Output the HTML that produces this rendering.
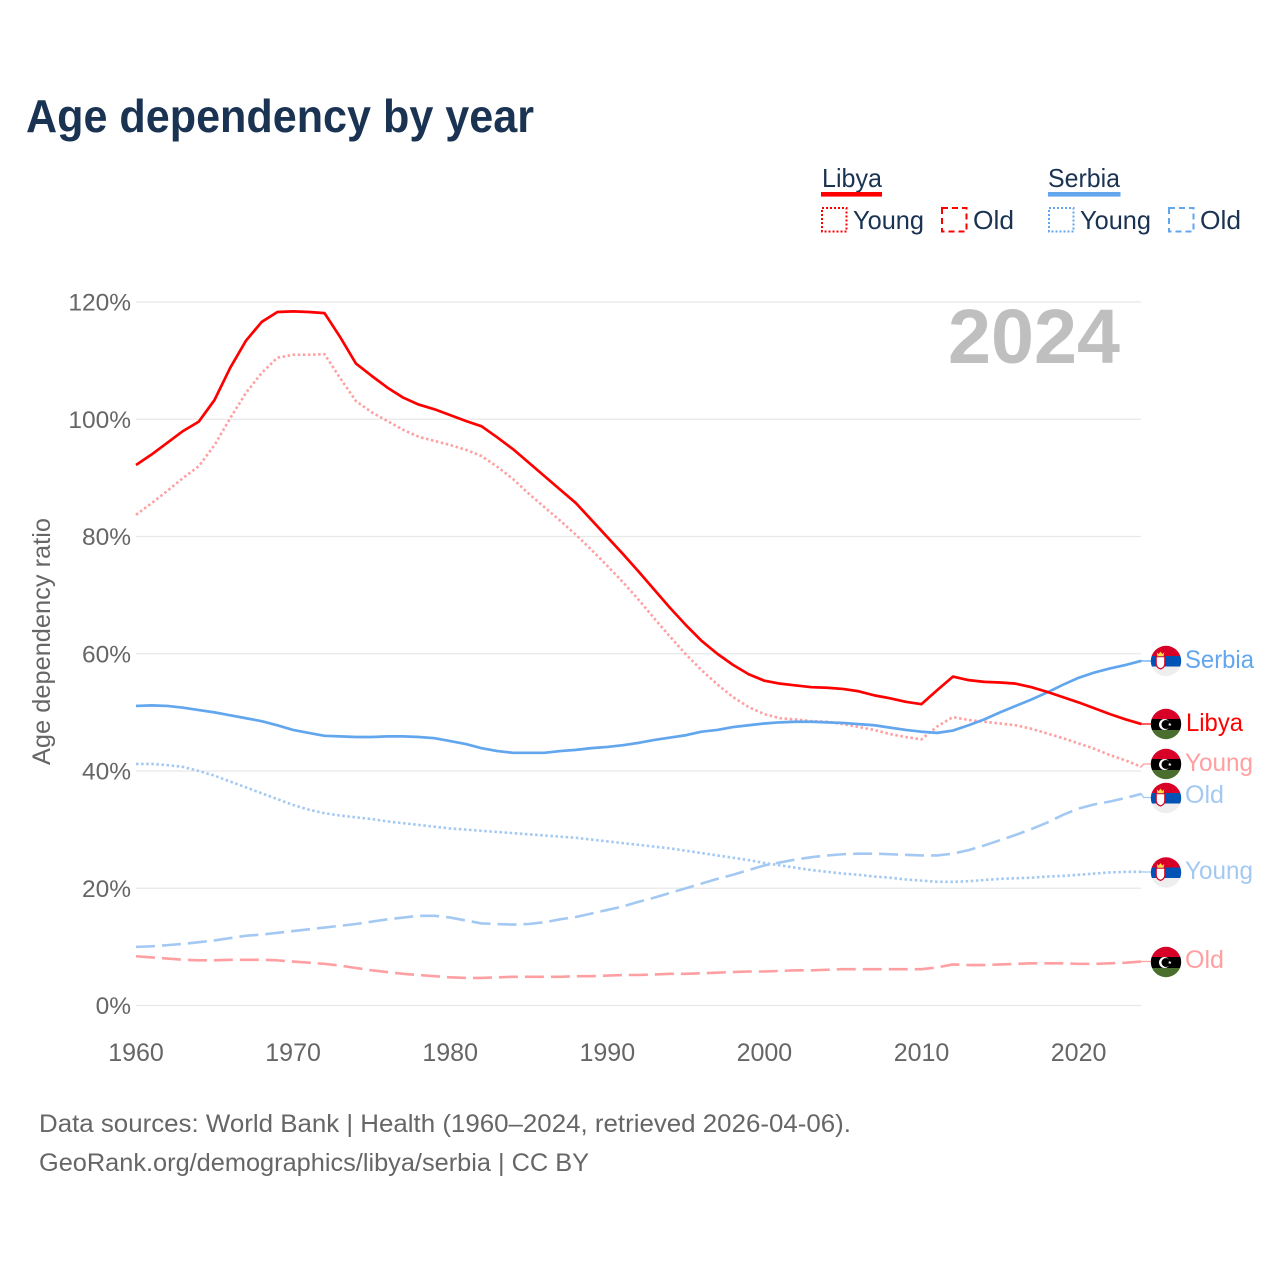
<!DOCTYPE html>
<html lang="en">
<head>
<meta charset="utf-8">
<title>Age dependency by year</title>
<style>
html,body{margin:0;padding:0;background:#fff;width:1280px;height:1280px;overflow:hidden}
svg{display:block}
text{font-family:"Liberation Sans",sans-serif}
</style>
</head>
<body>
<svg id="chart" xmlns="http://www.w3.org/2000/svg" width="1280" height="1280" viewBox="0 0 1280 1280">
  <defs>
    <clipPath id="flag-clip"><circle cx="0" cy="0" r="15.2"/></clipPath>
    <g id="flag-libya" clip-path="url(#flag-clip)">
      <rect x="-16" y="-16" width="32" height="11" fill="#d80027"/>
      <rect x="-16" y="-5" width="32" height="11" fill="#000"/>
      <rect x="-16" y="6" width="32" height="10" fill="#496e2d"/>
      <circle cx="-1.5" cy="0.5" r="5.5" fill="#fff"/>
      <circle cx="0" cy="0.5" r="4.5" fill="#000"/>
      <polygon points="3.8,-1.3 4.3,-0.1 5.6,-0.1 4.6,0.7 5,2 3.8,1.2 2.6,2 3,0.7 2,-0.1 3.3,-0.1" fill="#fff"/>
    </g>
    <g id="flag-serbia" clip-path="url(#flag-clip)">
      <rect x="-16" y="-16" width="32" height="11" fill="#d80027"/>
      <rect x="-16" y="-5" width="32" height="10.5" fill="#0052b4"/>
      <rect x="-16" y="5.5" width="32" height="10.5" fill="#eeeeee"/>
      <path d="M-10.2 -4.8 H-0.8 V3 Q-0.8 7.2 -5.5 8.6 Q-10.2 7.2 -10.2 3 Z" fill="#d80027"/>
      <path d="M-9.2 -3.8 H-1.8 V2.6 Q-1.8 6 -5.5 7.2 Q-9.2 6 -9.2 2.6 Z" fill="#fff"/>
      <path d="M-9.2 -8.6 L-7.4 -7 L-5.5 -9.4 L-3.6 -7 L-1.8 -8.6 L-2.4 -4.8 H-8.6 Z" fill="#ffda44"/>
    </g>
  </defs>

  <text x="26" y="132" font-size="46" font-weight="700" fill="#1a3353" textLength="508" lengthAdjust="spacingAndGlyphs">Age dependency by year</text>

  <g fill="#1a3353" font-size="26">
    <text x="822" y="187" textLength="60" lengthAdjust="spacingAndGlyphs">Libya</text>
    <rect x="821" y="192" width="61" height="4.6" fill="#ff0000"/>
    <rect x="822" y="208" width="24.5" height="23.5" fill="none" stroke="#ff0000" stroke-width="2" stroke-dasharray="2 2"/>
    <text x="853" y="229" textLength="71" lengthAdjust="spacingAndGlyphs">Young</text>
    <rect x="942" y="208" width="24.5" height="23.5" fill="none" stroke="#ff0000" stroke-width="2" stroke-dasharray="6 4"/>
    <text x="973" y="229" textLength="41" lengthAdjust="spacingAndGlyphs">Old</text>
    <text x="1048" y="187" textLength="72" lengthAdjust="spacingAndGlyphs">Serbia</text>
    <rect x="1048" y="192" width="72.5" height="4.6" fill="#62a6ee"/>
    <rect x="1049" y="208" width="24.5" height="23.5" fill="none" stroke="#62a6ee" stroke-width="2" stroke-dasharray="2 2"/>
    <text x="1080" y="229" textLength="71" lengthAdjust="spacingAndGlyphs">Young</text>
    <rect x="1169" y="208" width="24.5" height="23.5" fill="none" stroke="#62a6ee" stroke-width="2" stroke-dasharray="6 4"/>
    <text x="1200" y="229" textLength="41" lengthAdjust="spacingAndGlyphs">Old</text>
  </g>

  <g id="grid"></g>
  <g id="y-ticks"></g>
  <g id="x-ticks"></g>

  <text transform="translate(50,765) rotate(-90)" font-size="25" fill="#666666" textLength="247" lengthAdjust="spacingAndGlyphs">Age dependency ratio</text>

  <text x="948" y="363" font-size="77" font-weight="700" fill="#bfbfbf" textLength="172" lengthAdjust="spacingAndGlyphs">2024</text>

  <g id="series"></g>

  <g font-size="25">
    <use href="#flag-serbia" x="1166" y="661"/>
    <text x="1185" y="668" fill="#62a6ee" textLength="69" lengthAdjust="spacingAndGlyphs">Serbia</text>
    <use href="#flag-libya" x="1166" y="724"/>
    <text x="1186" y="731" fill="#ff0000" textLength="57" lengthAdjust="spacingAndGlyphs">Libya</text>
    <use href="#flag-libya" x="1166" y="764"/>
    <text x="1185" y="771" fill="#ff9fa1" textLength="68" lengthAdjust="spacingAndGlyphs">Young</text>
    <use href="#flag-serbia" x="1166" y="798"/>
    <text x="1185" y="803" fill="#a3c9f3" textLength="39" lengthAdjust="spacingAndGlyphs">Old</text>
    <use href="#flag-serbia" x="1166" y="872.5"/>
    <text x="1185" y="879" fill="#a3c9f3" textLength="68" lengthAdjust="spacingAndGlyphs">Young</text>
    <use href="#flag-libya" x="1166" y="962"/>
    <text x="1185" y="968" fill="#ff9fa1" textLength="39" lengthAdjust="spacingAndGlyphs">Old</text>
  </g>

  <g font-size="25" fill="#666666">
    <text x="39" y="1132" textLength="812" lengthAdjust="spacingAndGlyphs">Data sources: World Bank | Health (1960–2024, retrieved 2026-04-06).</text>
    <text x="39" y="1171" textLength="550" lengthAdjust="spacingAndGlyphs">GeoRank.org/demographics/libya/serbia | CC BY</text>
  </g>
</svg>
<script>
const startYear = 1960;
const yTickValues = [0, 20, 40, 60, 80, 100, 120];
const xTickYears = [1960, 1970, 1980, 1990, 2000, 2010, 2020];

const libyaTotal = [
  92.2, 94, 96, 98, 99.6, 103.3, 108.8, 113.4, 116.6, 118.3,
  118.4, 118.3, 118.1, 114, 109.5, 107.4, 105.4, 103.7, 102.5, 101.7,
  100.7, 99.7, 98.8, 96.9, 94.9, 92.6, 90.3, 88, 85.7, 82.8,
  79.9, 77, 74, 70.9, 67.8, 64.9, 62.2, 60, 58.1, 56.5,
  55.4, 54.9, 54.6, 54.3, 54.2, 54, 53.6, 52.9, 52.4, 51.8,
  51.4, 53.8, 56.1, 55.5, 55.2, 55.1, 54.9, 54.3, 53.5, 52.6,
  51.7, 50.7, 49.7, 48.8, 48
];
const libyaYoung = [
  83.7, 85.7, 87.8, 90, 92, 95.6, 100.2, 104.5, 107.9, 110.5,
  111, 111, 111.1, 107, 103.1, 101.2, 99.7, 98.2, 97, 96.3,
  95.6, 94.8, 93.7, 91.9, 89.8, 87.3, 85, 82.7, 80.3, 77.7,
  75, 72.2, 69.2, 66, 62.9, 59.9, 57.2, 54.8, 52.6, 50.9,
  49.7, 49, 48.8, 48.5, 48.4, 48, 47.5, 47, 46.3, 45.8,
  45.4, 47.6, 49.2, 48.7, 48.4, 48.1, 47.8, 47.2, 46.4, 45.6,
  44.7, 43.8, 42.7, 41.8, 40.7
];
const libyaOld = [
  8.4, 8.2, 8, 7.8, 7.7, 7.7, 7.8, 7.8, 7.8, 7.7,
  7.5, 7.3, 7.1, 6.8, 6.4, 6, 5.7, 5.4, 5.2, 5,
  4.8, 4.7, 4.7, 4.8, 4.9, 4.9, 4.9, 4.9, 5, 5,
  5.1, 5.2, 5.2, 5.3, 5.4, 5.4, 5.5, 5.6, 5.7, 5.8,
  5.8, 5.9, 6, 6, 6.1, 6.2, 6.2, 6.2, 6.2, 6.2,
  6.2, 6.5, 7, 6.9, 6.9, 7, 7.1, 7.2, 7.2, 7.2,
  7.1, 7.1, 7.2, 7.3, 7.5
];
const serbiaTotal = [
  51.1, 51.2, 51.1, 50.8, 50.4, 50, 49.5, 49, 48.5, 47.8,
  47, 46.5, 46, 45.9, 45.8, 45.8, 45.9, 45.9, 45.8, 45.6,
  45.1, 44.6, 43.9, 43.4, 43.1, 43.1, 43.1, 43.4, 43.6, 43.9,
  44.1, 44.4, 44.8, 45.3, 45.7, 46.1, 46.7, 47, 47.5, 47.8,
  48.1, 48.3, 48.4, 48.4, 48.3, 48.2, 48, 47.8, 47.4, 47,
  46.7, 46.5, 46.9, 47.8, 48.8, 50, 51.1, 52.2, 53.4, 54.7,
  55.9, 56.8, 57.5, 58.1, 58.8
];
const serbiaYoung = [
  41.2, 41.2, 41, 40.7, 40, 39.2, 38.2, 37.2, 36.2, 35.2,
  34.2, 33.4, 32.8, 32.4, 32.1, 31.8, 31.4, 31.1, 30.8, 30.5,
  30.2, 30, 29.8, 29.6, 29.4, 29.2, 29, 28.8, 28.6, 28.3,
  28, 27.7, 27.4, 27.1, 26.8, 26.4, 26, 25.6, 25.2, 24.8,
  24.3, 23.9, 23.5, 23.1, 22.8, 22.5, 22.3, 22, 21.8, 21.5,
  21.3, 21.1, 21.1, 21.2, 21.4, 21.6, 21.7, 21.8, 22, 22.1,
  22.3, 22.5, 22.7, 22.8, 22.8
];
const serbiaOld = [
  10, 10.1, 10.3, 10.5, 10.8, 11.1, 11.5, 11.9, 12.1, 12.4,
  12.7, 13, 13.3, 13.6, 13.9, 14.3, 14.7, 15, 15.3, 15.3,
  15, 14.5, 14, 13.9, 13.8, 13.9, 14.2, 14.7, 15.1, 15.7,
  16.3, 16.9, 17.7, 18.4, 19.2, 20, 20.8, 21.6, 22.3, 23.1,
  23.9, 24.4, 24.9, 25.3, 25.6, 25.8, 25.9, 25.9, 25.8, 25.7,
  25.6, 25.6, 25.9, 26.5, 27.3, 28.2, 29.1, 30.1, 31.2, 32.5,
  33.6, 34.3, 34.8, 35.4, 36.1
];

const NS = 'http://www.w3.org/2000/svg';
function xScale(year) { return 136 + (year - 1960) * 15.71; }
function yScale(v) { return 1005.5 - v * 5.8625; }

const gridGroup = document.getElementById('grid');
const yTickGroup = document.getElementById('y-ticks');
const xTickGroup = document.getElementById('x-ticks');
const seriesGroup = document.getElementById('series');

yTickValues.forEach(function (v) {
  const line = document.createElementNS(NS, 'line');
  
  
  line.setAttribute('x1', 136);
  line.setAttribute('x2', 1141);
  line.setAttribute('y1', yScale(v));
  line.setAttribute('y2', yScale(v));
  line.setAttribute('stroke', '#e8e8e8');
  line.setAttribute('stroke-width', 1.3);
  gridGroup.appendChild(line);

  const label = document.createElementNS(NS, 'text');
  
  
  label.setAttribute('x', 131);
  label.setAttribute('y', yScale(v) + 8.5);
  label.setAttribute('text-anchor', 'end');
  label.setAttribute('font-size', 24.5);
  label.setAttribute('fill', '#666666');
  label.textContent = v + '%';
  yTickGroup.appendChild(label);
});

xTickYears.forEach(function (year) {
  const label = document.createElementNS(NS, 'text');
  
  
  label.setAttribute('x', xScale(year));
  label.setAttribute('y', 1061);
  label.setAttribute('text-anchor', 'middle');
  label.setAttribute('font-size', 25);
  label.setAttribute('fill', '#666666');
  label.textContent = year;
  xTickGroup.appendChild(label);
});

function drawSeries(values, name, color, width, dash, labelY) {
  let pts = values.map(function (v, i) {
    return xScale(startYear + i).toFixed(2) + ',' + yScale(v).toFixed(2);
  }).join(' ');
  const line = document.createElementNS(NS, 'polyline');
  
  
  line.setAttribute('points', pts);
  line.setAttribute('fill', 'none');
  line.setAttribute('stroke', color);
  line.setAttribute('stroke-width', width);
  line.setAttribute('stroke-linejoin', 'round');
  if (dash) line.setAttribute('stroke-dasharray', dash);
  seriesGroup.appendChild(line);

  const endX = xScale(startYear + values.length - 1);
  const endY = yScale(values[values.length - 1]);
  const leader = document.createElementNS(NS, 'polyline');
  
  
  leader.setAttribute('points', endX + ',' + endY + ' ' + (endX + 2) + ',' + labelY + ' 1152,' + labelY);
  leader.setAttribute('fill', 'none');
  leader.setAttribute('stroke', color);
  leader.setAttribute('stroke-width', 1.3);
  seriesGroup.appendChild(leader);
}

drawSeries(libyaOld, 'line-libya-old', '#ff9fa1', 2.6, '19 7', 961.5);
drawSeries(libyaYoung, 'line-libya-young', '#ff9fa1', 2.6, '2.5 2.6', 764);
drawSeries(serbiaOld, 'line-serbia-old', '#a3c9f3', 2.6, '19 7', 797.5);
drawSeries(serbiaYoung, 'line-serbia-young', '#a3c9f3', 2.6, '2.5 2.6', 872);
drawSeries(serbiaTotal, 'line-serbia-total', '#62a6ee', 2.7, '', 661);
drawSeries(libyaTotal, 'line-libya-total', '#ff0000', 2.7, '', 724);
</script>
</body>
</html>
